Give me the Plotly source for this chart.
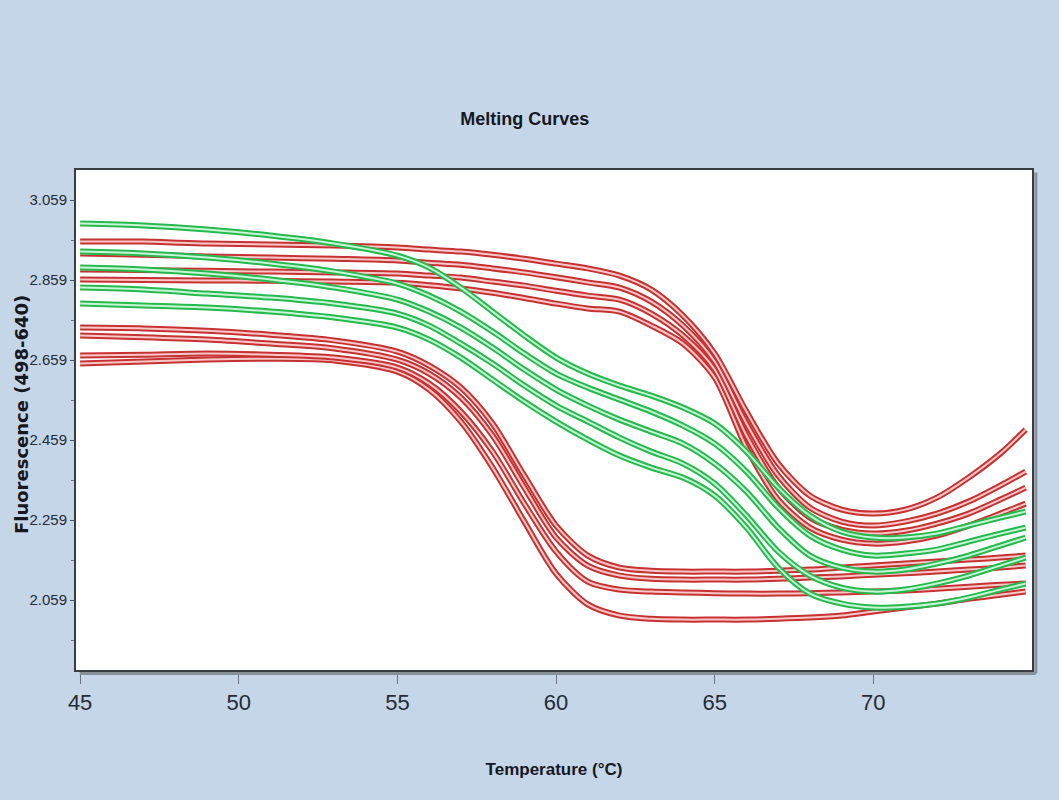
import plotly.graph_objects as go

# Temperature sample points (°C)
temps = [45, 47, 49, 51, 53, 55, 56, 57, 58, 59, 60, 61, 62, 63, 64, 65, 66, 67, 68, 69, 70, 71, 72, 73, 74, 74.8]

# Late-melting red curves
red_late_1 = [2.955, 2.955, 2.950, 2.948, 2.945, 2.940, 2.935, 2.930, 2.922, 2.912, 2.900, 2.888, 2.870, 2.835, 2.770, 2.675, 2.530, 2.400, 2.320, 2.285, 2.275, 2.285, 2.315, 2.365, 2.425, 2.485]
red_late_2 = [2.925, 2.922, 2.918, 2.915, 2.912, 2.908, 2.902, 2.897, 2.888, 2.878, 2.866, 2.853, 2.840, 2.805, 2.745, 2.655, 2.500, 2.370, 2.290, 2.255, 2.245, 2.255, 2.275, 2.305, 2.345, 2.380]
red_late_3 = [2.885, 2.884, 2.882, 2.880, 2.878, 2.875, 2.870, 2.865, 2.855, 2.845, 2.832, 2.820, 2.810, 2.775, 2.720, 2.635, 2.470, 2.340, 2.265, 2.235, 2.225, 2.232, 2.250, 2.275, 2.310, 2.340]
red_late_4 = [2.860, 2.859, 2.858, 2.857, 2.855, 2.852, 2.846, 2.838, 2.827, 2.814, 2.800, 2.788, 2.780, 2.745, 2.700, 2.615, 2.440, 2.310, 2.240, 2.210, 2.200, 2.205, 2.220, 2.245, 2.275, 2.300]

# Early-melting red curves
red_early_1 = [2.740, 2.738, 2.732, 2.722, 2.708, 2.680, 2.645, 2.590, 2.500, 2.370, 2.245, 2.170, 2.140, 2.132, 2.130, 2.130, 2.130, 2.132, 2.135, 2.140, 2.145, 2.150, 2.155, 2.160, 2.165, 2.170]
red_early_2 = [2.720, 2.716, 2.710, 2.700, 2.688, 2.660, 2.625, 2.565, 2.470, 2.340, 2.215, 2.145, 2.120, 2.112, 2.110, 2.110, 2.110, 2.112, 2.115, 2.118, 2.122, 2.126, 2.130, 2.135, 2.140, 2.145]
red_early_3 = [2.670, 2.672, 2.675, 2.672, 2.665, 2.640, 2.600, 2.530, 2.430, 2.300, 2.180, 2.105, 2.085, 2.080, 2.078, 2.076, 2.075, 2.075, 2.076, 2.078, 2.080, 2.083, 2.087, 2.092, 2.097, 2.100]
red_early_4 = [2.650, 2.655, 2.660, 2.662, 2.658, 2.630, 2.585, 2.505, 2.390, 2.255, 2.125, 2.048, 2.020, 2.012, 2.010, 2.010, 2.010, 2.012, 2.015, 2.020, 2.030, 2.040, 2.050, 2.062, 2.072, 2.080]

# Green curves
green_1 = [3.000, 2.995, 2.985, 2.970, 2.950, 2.920, 2.890, 2.840, 2.780, 2.720, 2.665, 2.625, 2.595, 2.570, 2.540, 2.500, 2.430, 2.340, 2.270, 2.230, 2.215, 2.215, 2.225, 2.245, 2.265, 2.280]
green_2 = [2.930, 2.925, 2.915, 2.900, 2.880, 2.850, 2.820, 2.780, 2.730, 2.675, 2.625, 2.590, 2.560, 2.530, 2.495, 2.450, 2.380, 2.290, 2.220, 2.185, 2.170, 2.175, 2.185, 2.205, 2.225, 2.240]
green_3 = [2.890, 2.885, 2.875, 2.860, 2.840, 2.810, 2.780, 2.740, 2.690, 2.635, 2.585, 2.545, 2.510, 2.480, 2.450, 2.400, 2.330, 2.240, 2.170, 2.140, 2.130, 2.135, 2.150, 2.170, 2.195, 2.215]
green_4 = [2.840, 2.835, 2.825, 2.815, 2.800, 2.775, 2.745, 2.700, 2.650, 2.595, 2.545, 2.505, 2.465, 2.430, 2.400, 2.350, 2.270, 2.180, 2.120, 2.090, 2.080, 2.085, 2.100, 2.120, 2.145, 2.165]
green_5 = [2.800, 2.795, 2.790, 2.780, 2.765, 2.740, 2.710, 2.665, 2.610, 2.555, 2.505, 2.460, 2.420, 2.390, 2.365, 2.320, 2.240, 2.140, 2.075, 2.050, 2.040, 2.042, 2.050, 2.065, 2.085, 2.100]

x_ticks = [45, 50, 55, 60, 65, 70]
y_ticks = [2.059, 2.259, 2.459, 2.659, 2.859, 3.059]
y_tick_labels = ["2.059", "2.259", "2.459", "2.659", "2.859", "3.059"]

red_curves = [red_early_4, red_early_3, red_early_2, red_early_1,
              red_late_4, red_late_3, red_late_2, red_late_1]
green_curves = [green_5, green_4, green_3, green_2, green_1]

RED_OUT, RED_IN = "rgb(198,50,50)", "rgb(250,200,200)"
GRN_OUT, GRN_IN = "rgb(38,186,78)", "rgb(200,245,214)"

fig = go.Figure()

def add_curve(ys, outer, inner):
    fig.add_trace(go.Scatter(x=temps, y=ys, mode="lines",
                             line=dict(color=outer, width=6, shape="spline", smoothing=0.8),
                             hoverinfo="skip", showlegend=False))
    fig.add_trace(go.Scatter(x=temps, y=ys, mode="lines",
                             line=dict(color=inner, width=2, shape="spline", smoothing=0.8),
                             hoverinfo="skip", showlegend=False))

for c in red_curves:
    add_curve(c, RED_OUT, RED_IN)
for c in green_curves:
    add_curve(c, GRN_OUT, GRN_IN)

sans = "Liberation Sans, Arial, sans-serif"
label_col = "#262b36"

fig.update_layout(
    width=1059, height=800,
    paper_bgcolor="#c4d6e7",
    plot_bgcolor="#ffffff",
    margin=dict(l=76, r=27, t=170, b=130),
    showlegend=False,
    title=dict(text="<b>Melting Curves</b>", x=0.4955, xanchor="center", y=0.852, yanchor="middle",
               font=dict(family=sans, size=18, color="#15181f")),
    xaxis=dict(range=[44.87, 75.0], tickvals=x_ticks, ticks="outside", ticklen=12,
               tickcolor="#6b7480", tickwidth=1, showgrid=False, zeroline=False,
               showline=True, mirror=True, linecolor="#3a3d42", linewidth=2,
               tickfont=dict(family=sans, size=22, color=label_col),
               title=dict(text="<b>Temperature (°C)</b>", standoff=49,
                          font=dict(family=sans, size=17, color="#15181f"))),
    yaxis=dict(range=[1.884, 3.134], tickvals=y_ticks, ticktext=y_tick_labels,
               ticks="outside", ticklen=4, tickcolor="#4b5360", showgrid=False, zeroline=False,
               showline=True, mirror=True, linecolor="#3a3d42", linewidth=2,
               minor=dict(dtick=0.1, tick0=2.059, ticks="outside", ticklen=3, tickcolor="#6b7480"),
               tickfont=dict(family=sans, size=15, color=label_col)),
    annotations=[dict(text="<b>Fluorescence (498-640)</b>", textangle=-90,
                      xref="paper", yref="paper", x=-0.0575, y=0.51,
                      xanchor="center", yanchor="middle", showarrow=False,
                      font=dict(family="DejaVu Sans, sans-serif", size=18, color="#15181f"))],
    shapes=[
        dict(type="line", xref="paper", yref="paper", x0=0.004, x1=1.004, y0=-0.007, y1=-0.007,
             line=dict(color="#8a9098", width=3)),
        dict(type="line", xref="paper", yref="paper", x0=1.004, x1=1.004, y0=-0.007, y1=0.995,
             line=dict(color="#8a9098", width=3)),
    ],
)

fig.write_html("out.html")
